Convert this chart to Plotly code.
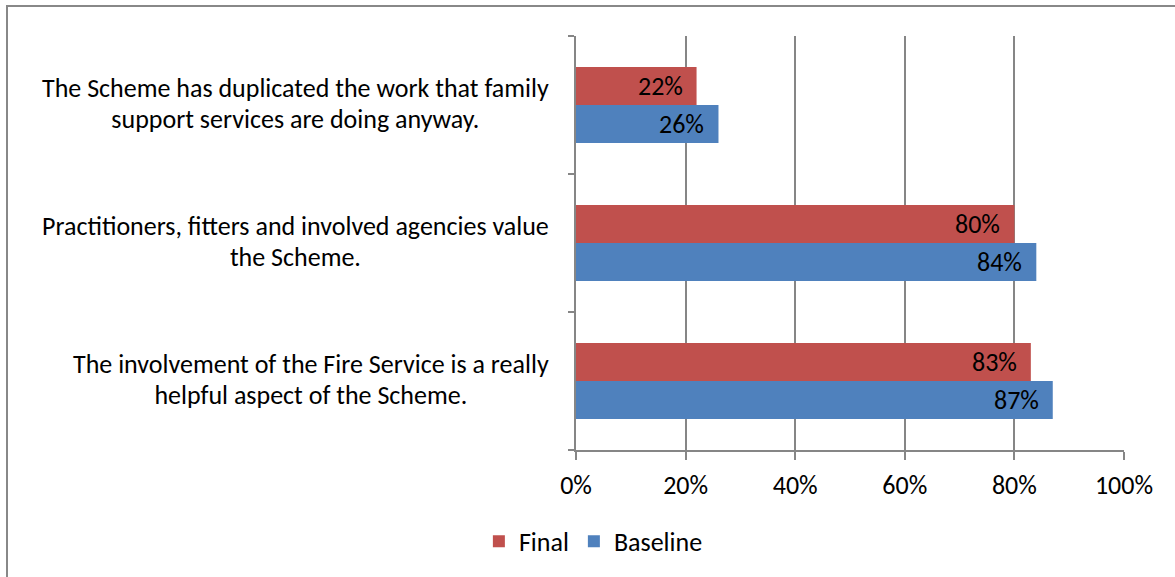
import plotly.graph_objects as go

# Survey statements (top to bottom as shown) and agreement shares
statements = [
    "The Scheme has duplicated the work that family<br>support services are doing anyway.",
    "Practitioners, fitters and involved agencies value<br>the Scheme.",
    "The involvement of the Fire Service is a really<br>helpful aspect of the Scheme.",
]
final_pct = [22, 80, 83]
baseline_pct = [26, 84, 87]
x_ticks = [0, 20, 40, 60, 80, 100]

FONT = "Carlito, Lato, 'Open Sans', sans-serif"
FS = 26
RED = "#C0504D"
BLUE = "#4F81BD"
GRID = "#868686"

# categorical axis runs bottom-up, so reverse the statement order
cats = statements[::-1]
fin = [v / 100 for v in final_pct[::-1]]
base = [v / 100 for v in baseline_pct[::-1]]

fig = go.Figure()
fig.add_trace(go.Bar(
    y=cats, x=base, name="Baseline", orientation="h",
    marker=dict(color=BLUE, line=dict(width=0)),
))
fig.add_trace(go.Bar(
    y=cats, x=fin, name="Final", orientation="h",
    marker=dict(color=RED, line=dict(width=0)),
))

# value labels, right-aligned a little inside each bar end
for c, vf, vb in zip(cats, fin, base):
    for v, dy in ((vf, 19), (vb, -19)):
        fig.add_annotation(
            x=v, xref="x", y=c, yref="y", text=f"{round(v * 100)}%",
            showarrow=False, xanchor="right", yanchor="middle",
            xshift=-12, yshift=dy,
            font=dict(size=FS, family=FONT, color="black"),
        )


def sized(label, px):
    # wrap each line so the glyphs are larger than the base size that
    # sets the line spacing
    return "<br>".join(
        f"<span style='font-size:{px}px'>{ln}</span>" for ln in label.split("<br>")
    )


# statement labels: lines centred, block right-aligned next to the axis
for c in cats:
    fig.add_annotation(
        x=0, xref="paper", y=c, yref="y", text=sized(c, FS), showarrow=False,
        xanchor="right", align="center", xshift=-25, yshift=2,
        font=dict(size=24, family=FONT, color="black"),
    )

fig.update_layout(
    width=1175, height=577,
    margin=dict(l=576, r=51, t=36, b=127),
    paper_bgcolor="white", plot_bgcolor="white",
    barmode="group", bargap=0.45, bargroupgap=0,
    font=dict(family=FONT, size=FS, color="black"),
    showlegend=True,
    legend=dict(
        orientation="h", traceorder="reversed",
        xref="container", yref="container", x=0.505, y=0.062,
        xanchor="center", yanchor="middle",
        font=dict(size=FS, family=FONT), itemwidth=30,
    ),
    xaxis=dict(
        range=[0, 1], tickvals=[v / 100 for v in x_ticks],
        ticktext=[f"{v}%" for v in x_ticks],
        showgrid=True, gridcolor=GRID, gridwidth=2,
        showline=True, linecolor=GRID, linewidth=2,
        ticks="outside", ticklen=8, tickcolor=GRID, tickwidth=2,
        zeroline=False, tickfont=dict(size=FS, family=FONT),
        ticklabelstandoff=3,
    ),
    yaxis=dict(
        categoryorder="array", categoryarray=cats,
        showticklabels=False, tickson="boundaries",
        ticks="outside", ticklen=6, tickcolor=GRID, tickwidth=2,
        showline=True, linecolor=GRID, linewidth=2,
        showgrid=False, zeroline=False,
    ),
    shapes=[dict(
        type="rect", xref="paper", yref="paper",
        x0=(7 - 576) / 548, x1=2.0, y0=-1.0, y1=(450 - 6) / 414,
        line=dict(color="#888888", width=2), layer="below",
    )],
)

fig.write_html("out.html")
